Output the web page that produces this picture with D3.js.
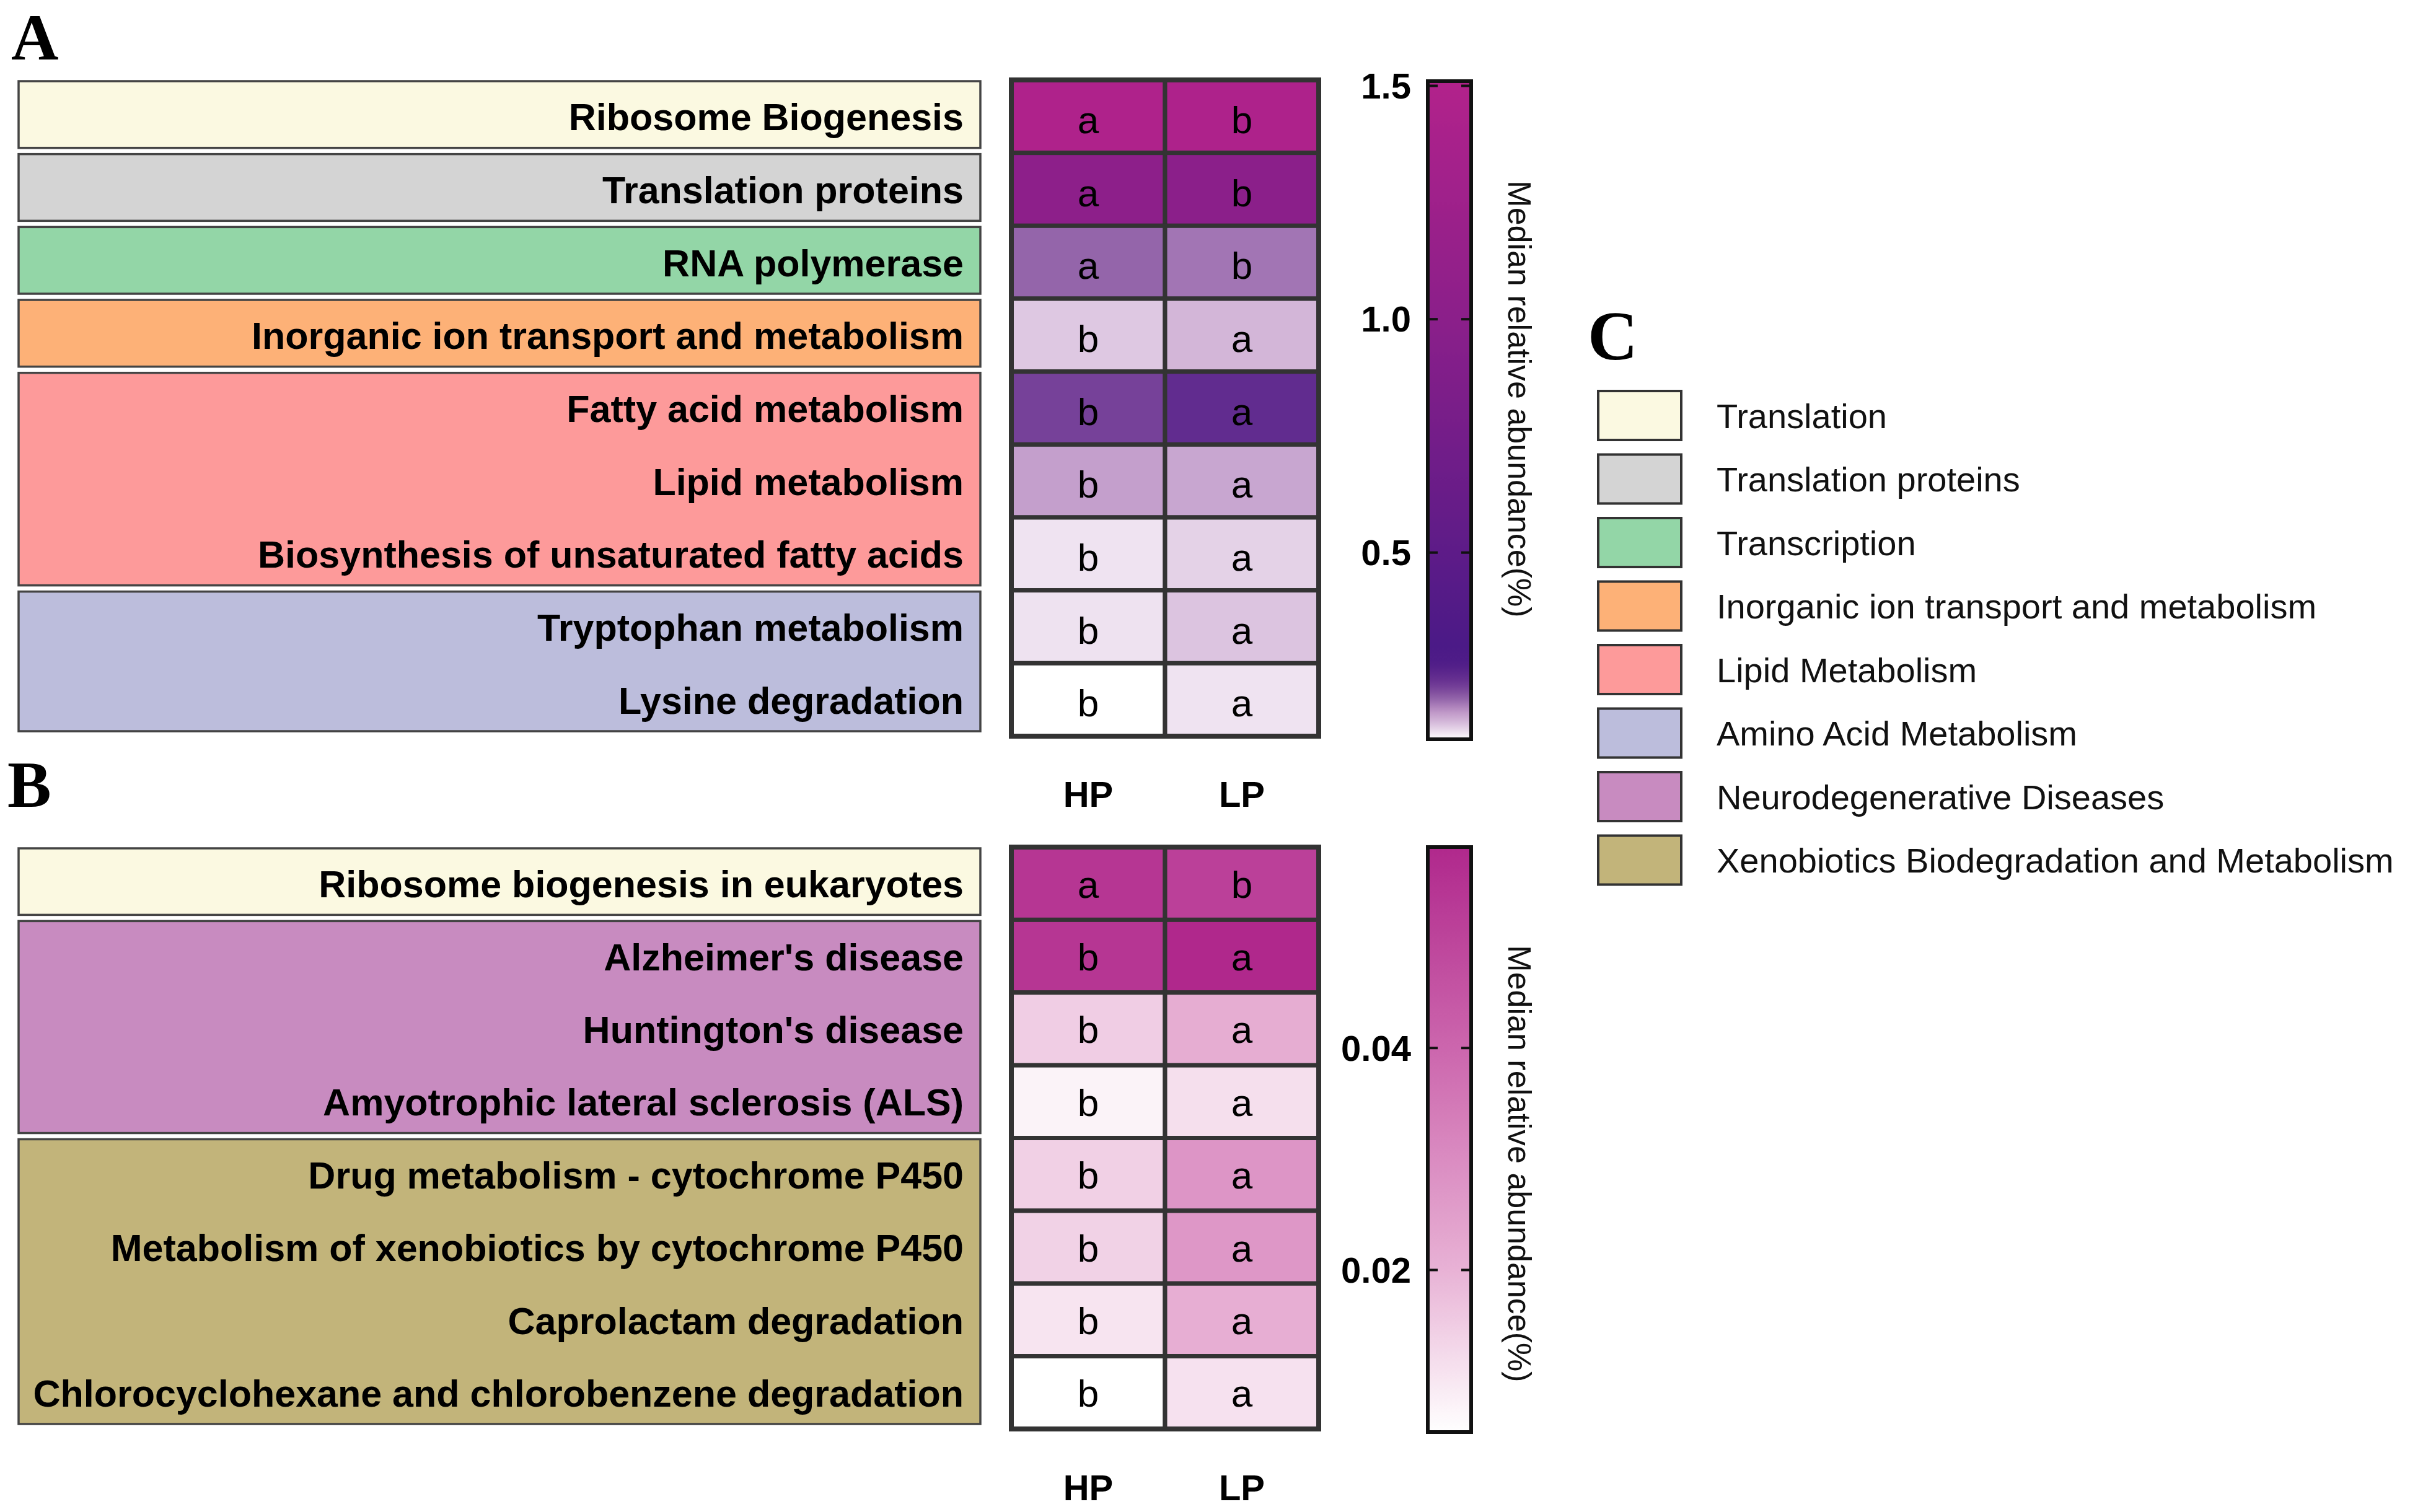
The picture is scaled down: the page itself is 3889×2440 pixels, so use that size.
<!DOCTYPE html>
<html><head><meta charset="utf-8">
<script src="https://cdn.jsdelivr.net/npm/d3@7"></script>
<style>body{margin:0;background:#fff;} svg{display:block;}</style>
</head><body>
<script>
const W = 3889, H = 2440;

// ---------- DATA ----------
const columns = ["HP", "LP"];

const pathwaysA = ["Ribosome Biogenesis", "Translation proteins", "RNA polymerase",
  "Inorganic ion transport and metabolism", "Fatty acid metabolism", "Lipid metabolism",
  "Biosynthesis of unsaturated fatty acids", "Tryptophan metabolism", "Lysine degradation"];
const groupsA = ["Translation", "Translation proteins", "Transcription",
  "Inorganic ion transport and metabolism", "Lipid Metabolism", "Lipid Metabolism",
  "Lipid Metabolism", "Amino Acid Metabolism", "Amino Acid Metabolism"];
const hpA = [1.47, 1.02, 0.186, 0.128, 0.211, 0.153, 0.114, 0.115, 0.100];
const lpA = [1.46, 1.00, 0.177, 0.139, 0.235, 0.149, 0.123, 0.130, 0.114];
const sigHpA = ["a", "a", "a", "b", "b", "b", "b", "b", "b"];
const sigLpA = ["b", "b", "b", "a", "a", "a", "a", "a", "a"];
const ticksA = [0.5, 1.0, 1.5];

const pathwaysB = ["Ribosome biogenesis in eukaryotes", "Alzheimer's disease", "Huntington's disease",
  "Amyotrophic lateral sclerosis (ALS)", "Drug metabolism - cytochrome P450",
  "Metabolism of xenobiotics by cytochrome P450", "Caprolactam degradation",
  "Chlorocyclohexane and chlorobenzene degradation"];
const groupsB = ["Translation", "Neurodegenerative Diseases", "Neurodegenerative Diseases",
  "Neurodegenerative Diseases", "Xenobiotics Biodegradation and Metabolism",
  "Xenobiotics Biodegradation and Metabolism", "Xenobiotics Biodegradation and Metabolism",
  "Xenobiotics Biodegradation and Metabolism"];
const hpB = [0.054, 0.054, 0.0149, 0.0077, 0.0143, 0.0140, 0.0105, 0.0054];
const lpB = [0.051, 0.058, 0.0214, 0.0115, 0.0276, 0.0270, 0.0210, 0.0110];
const sigHpB = ["a", "b", "b", "b", "b", "b", "b", "b"];
const sigLpB = ["b", "a", "a", "a", "a", "a", "a", "a"];
const ticksB = [0.02, 0.04];

const legendGroups = ["Translation", "Translation proteins", "Transcription",
  "Inorganic ion transport and metabolism", "Lipid Metabolism", "Amino Acid Metabolism",
  "Neurodegenerative Diseases", "Xenobiotics Biodegradation and Metabolism"];
const legendColors = ["#fbf9e1", "#d4d4d4", "#93d6a7", "#fdb177", "#fd9a9a", "#bcbddc", "#c88bc0", "#c2b47a"];

const colorbarTitle = "Median relative abundance(%)";

// ---------- SETUP ----------
const svg = d3.select("body").append("svg").attr("width", W).attr("height", H);
svg.append("rect").attr("width", W).attr("height", H).attr("fill", "#fff");
const defs = svg.append("defs");
const SANS = "'Liberation Sans', Arial, sans-serif";
const SERIF = "'Liberation Serif', 'Times New Roman', serif";

const groupColor = d3.scaleOrdinal().domain(legendGroups).range(legendColors);

const colorA = d3.scaleLinear()
  .domain([0.10, 0.13, 0.16, 0.19, 0.22, 0.26, 0.30, 1.0, 1.51])
  .range(["#ffffff", "#dcc4e0", "#bd94c6", "#8e5ea6", "#6c3593", "#4f1d88", "#4b1a87", "#8b1f8a", "#b2228b"])
  .clamp(true);
const colorB = d3.scaleLinear()
  .domain([0.0054, 0.02, 0.04, 0.0581])
  .range(["#ffffff", "#e8b2d5", "#cc66ad", "#b0288c"])
  .clamp(true);

const xCol = d3.scaleBand().domain(columns).range([1632, 2128]);
const boxX0 = 30, boxX1 = 1582, labelRight = 1555;
const barX0 = 2304, barX1 = 2374;

function drawPanel(cfg) {
  const n = cfg.pathways.length;
  const y = d3.scaleBand().domain(d3.range(n)).range([cfg.top, cfg.bottom]);
  const bw = y.bandwidth();
  const g = svg.append("g");

  // group boxes
  const runs = [];
  cfg.groups.forEach((grp, i) => {
    if (runs.length && runs[runs.length - 1].grp === grp) runs[runs.length - 1].end = i;
    else runs.push({ grp, start: i, end: i });
  });
  g.selectAll("rect.grp").data(runs).join("rect")
    .attr("x", boxX0).attr("width", boxX1 - boxX0)
    .attr("y", d => y(d.start) + 2)
    .attr("height", d => y(d.end) + bw - y(d.start) - 10)
    .attr("fill", d => groupColor(d.grp))
    .attr("stroke", "#444").attr("stroke-width", 3.5);

  g.selectAll("text.lab").data(cfg.pathways).join("text")
    .attr("x", labelRight).attr("y", (d, i) => y(i) + bw / 2)
    .attr("dy", "0.37em").attr("text-anchor", "end")
    .attr("font-family", SANS).attr("font-weight", "bold").attr("font-size", 61)
    .attr("fill", "#000").text(d => d);

  // heatmap cells
  const cells = [];
  cfg.pathways.forEach((p, i) => {
    cells.push({ i, col: "HP", v: cfg.hp[i], s: cfg.sigHp[i] });
    cells.push({ i, col: "LP", v: cfg.lp[i], s: cfg.sigLp[i] });
  });
  g.selectAll("rect.cell").data(cells).join("rect")
    .attr("x", d => xCol(d.col)).attr("y", d => y(d.i))
    .attr("width", xCol.bandwidth()).attr("height", bw)
    .attr("fill", d => cfg.color(d.v))
    .attr("stroke", "#333").attr("stroke-width", 7);
  g.selectAll("text.sig").data(cells).join("text")
    .attr("x", d => xCol(d.col) + xCol.bandwidth() / 2)
    .attr("y", d => y(d.i) + bw / 2 + cfg.sigOffset)
    .attr("text-anchor", "middle")
    .attr("font-family", SANS).attr("font-size", 62).attr("fill", "#000")
    .text(d => d.s);
  g.append("rect").attr("x", xCol.range()[0]).attr("y", cfg.top)
    .attr("width", xCol.range()[1] - xCol.range()[0]).attr("height", cfg.bottom - cfg.top)
    .attr("fill", "none").attr("stroke", "#333").attr("stroke-width", 8);

  // column labels
  g.selectAll("text.col").data(columns).join("text")
    .attr("x", d => xCol(d) + xCol.bandwidth() / 2).attr("y", cfg.colLabelY)
    .attr("dy", "0.35em").attr("text-anchor", "middle")
    .attr("font-family", SANS).attr("font-weight", "bold").attr("font-size", 58)
    .text(d => d);

  // colorbar
  const yBar = d3.scaleLinear().domain(cfg.barDomain).range([cfg.barBottom, cfg.barTop]);
  const gid = "grad" + cfg.id;
  const grad = defs.append("linearGradient").attr("id", gid)
    .attr("x1", 0).attr("y1", 1).attr("x2", 0).attr("y2", 0);
  d3.range(0, 1.0001, 0.01).forEach(t => {
    const v = cfg.barDomain[0] + t * (cfg.barDomain[1] - cfg.barDomain[0]);
    grad.append("stop").attr("offset", t).attr("stop-color", cfg.color(v));
  });
  g.append("rect").attr("x", barX0).attr("y", cfg.barTop)
    .attr("width", barX1 - barX0).attr("height", cfg.barBottom - cfg.barTop)
    .attr("fill", `url(#${gid})`).attr("stroke", "#111").attr("stroke-width", 6);
  g.selectAll("line.tl").data(cfg.ticks).join("line")
    .attr("x1", barX0).attr("x2", barX0 + 16)
    .attr("y1", d => yBar(d)).attr("y2", d => yBar(d))
    .attr("stroke", "#111").attr("stroke-width", 4);
  g.selectAll("line.tr").data(cfg.ticks).join("line")
    .attr("x1", barX1 - 16).attr("x2", barX1)
    .attr("y1", d => yBar(d)).attr("y2", d => yBar(d))
    .attr("stroke", "#111").attr("stroke-width", 4);
  g.selectAll("text.tick").data(cfg.ticks).join("text")
    .attr("x", 2277).attr("y", d => yBar(d)).attr("dy", "0.35em")
    .attr("text-anchor", "end")
    .attr("font-family", SANS).attr("font-weight", "bold").attr("font-size", 58)
    .text(d => cfg.fmt(d));
  g.append("text")
    .attr("transform", `translate(2452,${cfg.titleY}) rotate(90)`)
    .attr("text-anchor", "middle").attr("dy", "0.35em")
    .attr("font-family", SANS).attr("font-size", 52).attr("fill", "#111")
    .text(colorbarTitle);

  // panel letter
  svg.append("text").attr("x", cfg.letterX).attr("y", cfg.letterY)
    .attr("font-family", SERIF).attr("font-weight", "bold").attr("font-size", 106)
    .text(cfg.letter);
}

drawPanel({
  id: "A", letter: "A", letterX: 18, letterY: 96,
  pathways: pathwaysA, groups: groupsA, hp: hpA, lp: lpA, sigHp: sigHpA, sigLp: sigLpA,
  top: 129, bottom: 1188, color: colorA, sigOffset: 27, colLabelY: 1282,
  barDomain: [0.1, 1.51], barTop: 131, barBottom: 1193, ticks: ticksA,
  fmt: d3.format(".1f"), titleY: 644
});
drawPanel({
  id: "B", letter: "B", letterX: 12, letterY: 1302,
  pathways: pathwaysB, groups: groupsB, hp: hpB, lp: lpB, sigHp: sigHpB, sigLp: sigLpB,
  top: 1367, bottom: 2306, color: colorB, sigOffset: 23, colLabelY: 2401,
  barDomain: [0.0054, 0.0581], barTop: 1367, barBottom: 2311, ticks: ticksB,
  fmt: d3.format(".2f"), titleY: 1878
});

// ---------- LEGEND (C) ----------
svg.append("text").attr("x", 2562).attr("y", 580)
  .attr("font-family", SERIF).attr("font-weight", "bold").attr("font-size", 112).text("C");
const yLeg = d3.scaleBand().domain(legendGroups).range([619, 1439]);
const leg = svg.append("g");
leg.selectAll("rect").data(legendGroups).join("rect")
  .attr("x", 2579).attr("width", 134)
  .attr("y", d => yLeg(d) + 12).attr("height", 79)
  .attr("fill", d => groupColor(d)).attr("stroke", "#333").attr("stroke-width", 4);
leg.selectAll("text").data(legendGroups).join("text")
  .attr("x", 2770).attr("y", d => yLeg(d) + yLeg.bandwidth() / 2 + 1).attr("dy", "0.35em")
  .attr("font-family", SANS).attr("font-size", 56).attr("fill", "#111")
  .text(d => d);
</script>
</body></html>
